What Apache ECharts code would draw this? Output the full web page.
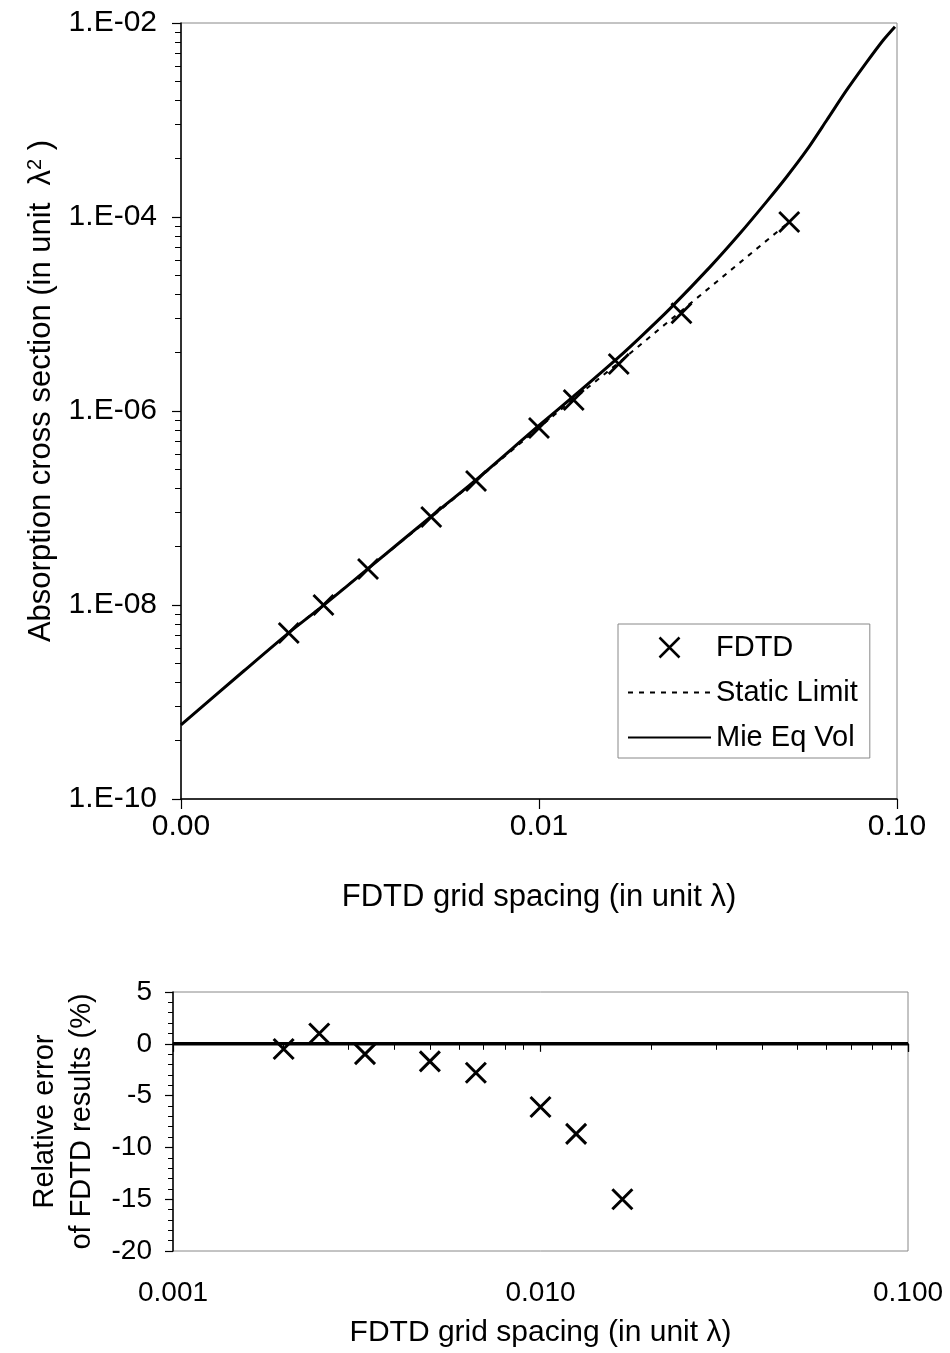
<!DOCTYPE html>
<html><head><meta charset="utf-8">
<script src="https://cdn.jsdelivr.net/npm/echarts@6/dist/echarts.min.js"></script>
<style>html,body{margin:0;padding:0;background:#fff}#c{width:950px;height:1353px}</style>
</head><body><div id="c"></div>
<script>
// ---- data ----
const gridSpacing = [0.002, 0.0025, 0.00333, 0.005, 0.00667, 0.01, 0.0125, 0.0167, 0.025, 0.05];
const fdtdCross   = [5.14e-9, 1.0e-8, 2.35e-8, 8.07e-8, 1.9e-7, 6.68e-7, 1.30e-6, 3.05e-6, 1.02e-5, 8.9e-5];
const staticCross = [5.2e-9, 1.0e-8, 2.37e-8, 8.0e-8, 1.92e-7, 6.75e-7, 1.33e-6, 3.15e-6, 1.08e-5, 8.9e-5];
const mieSpacing  = [0.001, 0.0015, 0.002, 0.0025, 0.00333, 0.005, 0.00667, 0.01, 0.0125, 0.0167, 0.0195, 0.0233, 0.0301, 0.0365, 0.0433, 0.0492, 0.056, 0.0637, 0.0724, 0.0823, 0.0916, 0.0987];
const mieCross    = [5.8e-10, 2.1e-9, 5.17e-9, 9.9e-9, 2.37e-8, 8.2e-8, 1.95e-7, 7.1e-7, 1.42e-6, 3.59e-6, 6.1e-6, 1.15e-5, 3.08e-5, 6.84e-5, 1.45e-4, 2.6e-4, 4.91e-4, 1.0e-3, 2.04e-3, 3.95e-3, 6.68e-3, 9.16e-3];
const errSpacing  = [0.002, 0.0025, 0.00333, 0.005, 0.00667, 0.01, 0.0125, 0.0167];
const relError    = [-0.5, 1.0, -1.0, -1.7, -2.8, -6.1, -8.7, -15.0];
const zeroSpacing = [0.001, 0.1];
const zeroError   = [0, 0];
const legendNames = ['FDTD', 'Static Limit', 'Mie Eq Vol'];

const FONT = "'Liberation Sans', Arial, Helvetica, sans-serif";
const X_PATH = 'path://M0,0L20,20M20,0L0,20';
const zip = (a, b) => a.map((v, i) => [v, b[i]]);
const black = '#000';
const noSym = {color: 'rgba(0,0,0,0)', borderWidth: 0, borderColor: 'rgba(0,0,0,0)'};

const chart = echarts.init(document.getElementById('c'), null, {renderer: 'canvas'});
const option = {
  animation: false,
  backgroundColor: '#fff',
  textStyle: {fontFamily: FONT, color: black},
  grid: [
    {left: 181, right: 53, top: 23, height: 776, show: true, borderColor: '#888', borderWidth: 1, backgroundColor: 'transparent'},
    {left: 173, right: 42, top: 992, height: 259, show: true, borderColor: '#888', borderWidth: 1, backgroundColor: 'transparent'}
  ],
  legend: {
    data: [
      {name: legendNames[0], icon: X_PATH, itemStyle: {color: 'rgba(0,0,0,0)', borderColor: black, borderWidth: 2.5, opacity: 1}},
      {name: legendNames[1], itemStyle: noSym},
      {name: legendNames[2], itemStyle: noSym}
    ],
    orient: 'vertical', left: 618, top: 624,
    itemWidth: 83, itemHeight: 20, itemGap: 16,
    padding: [9, 12, 6, 9],
    borderColor: '#888', borderWidth: 1,
    textStyle: {fontFamily: FONT, fontSize: 29, lineHeight: 29, color: black},
    selectedMode: false
  },
  xAxis: [
    {
      type: 'log', gridIndex: 0, min: 0.001, max: 0.1, logBase: 10,
      name: 'FDTD grid spacing (in unit λ)', nameLocation: 'middle', nameGap: 83,
      nameTextStyle: {fontFamily: FONT, fontSize: 31, color: black},
      axisLine: {show: true, lineStyle: {color: black, width: 1.5}},
      axisTick: {show: true, length: 10, lineStyle: {color: black, width: 1.2}},
      minorTick: {show: false},
      splitLine: {show: false},
      axisLabel: {fontFamily: FONT, fontSize: 30, color: black, margin: 13,
        formatter: v => v.toFixed(2)}
    },
    {
      type: 'log', gridIndex: 1, min: 0.001, max: 0.1, logBase: 10,
      name: 'FDTD grid spacing (in unit λ)', nameLocation: 'middle', nameGap: 67,
      nameTextStyle: {fontFamily: FONT, fontSize: 30, color: black},
      axisLine: {show: true, lineStyle: {color: black, width: 1.5}},
      axisTick: {show: true, length: 8, lineStyle: {color: black, width: 1.2}},
      minorTick: {show: true, splitNumber: 9, length: 6, lineStyle: {color: black, width: 1}},
      splitLine: {show: false}, minorSplitLine: {show: false},
      axisLabel: {fontFamily: FONT, fontSize: 28, color: black, margin: 28,
        formatter: v => v.toFixed(3)}
    }
  ],
  yAxis: [
    {
      type: 'log', gridIndex: 0, logBase: 100, min: 1e-10, max: 1e-2, position: 'left',
      name: '{a|Absorption cross section (in unit  λ}{s|2}{a| )}',
      nameLocation: 'middle', nameGap: 124,
      nameTextStyle: {fontFamily: FONT, fontSize: 31, color: black, padding: [0, 0, 0, 40],
        rich: {a: {fontFamily: FONT, fontSize: 31, color: black, lineHeight: 32},
               s: {fontFamily: FONT, fontSize: 20, color: black, verticalAlign: 'top', lineHeight: 32}}},
      axisLine: {show: true, lineStyle: {color: black, width: 1.5}},
      axisTick: {show: false},
      minorTick: {show: false},
      splitLine: {show: false},
      axisLabel: {fontFamily: FONT, fontSize: 30, color: black, margin: 24,
        formatter: v => { const e = Math.round(Math.log10(v)); const s = Math.abs(e) < 10 ? '0' + Math.abs(e) : '' + Math.abs(e); return '1.E' + (e < 0 ? '-' : '+') + s; }}
    },
    {
      // auxiliary axis carrying the tick marks only (log minor pattern per labelled interval)
      type: 'log', gridIndex: 0, logBase: 10, min: 1, max: 1e4, position: 'left', offset: 0,
      axisLine: {show: false},
      axisTick: {show: true, length: 9, lineStyle: {color: black, width: 1.2}},
      minorTick: {show: true, splitNumber: 9, length: 6, lineStyle: {color: black, width: 1}},
      splitLine: {show: false}, minorSplitLine: {show: false},
      axisLabel: {show: false}
    },
    {
      type: 'value', gridIndex: 1, min: -20, max: 5, interval: 5,
      name: 'Relative error\nof FDTD results (%)', nameLocation: 'middle', nameGap: 72,
      nameTextStyle: {fontFamily: FONT, fontSize: 29, color: black, lineHeight: 37},
      axisLine: {show: true, lineStyle: {color: black, width: 1.5}},
      axisTick: {show: true, length: 8, lineStyle: {color: black, width: 1.2}},
      minorTick: {show: true, splitNumber: 5, length: 5, lineStyle: {color: black, width: 1}},
      splitLine: {show: false}, minorSplitLine: {show: false},
      axisLabel: {fontFamily: FONT, fontSize: 28, color: black, margin: 21}
    }
  ],
  series: [
    {
      name: legendNames[1], type: 'line', xAxisIndex: 0, yAxisIndex: 0,
      data: zip(gridSpacing, staticCross), symbol: 'none', z: 2,
      lineStyle: {color: black, width: 2, type: [5, 6]}, itemStyle: {color: black},
      emphasis: {disabled: true}
    },
    {
      name: legendNames[2], type: 'line', xAxisIndex: 0, yAxisIndex: 0,
      data: zip(mieSpacing, mieCross), symbol: 'none', smooth: 0.25, z: 3,
      lineStyle: {color: black, width: 3}, itemStyle: {color: black},
      emphasis: {disabled: true}
    },
    {
      name: legendNames[0], type: 'scatter', xAxisIndex: 0, yAxisIndex: 0,
      data: zip(gridSpacing, fdtdCross), symbol: X_PATH, symbolSize: 20, z: 4,
      itemStyle: {color: 'rgba(0,0,0,0)', borderColor: black, borderWidth: 2.8, opacity: 1},
      emphasis: {disabled: true}
    },
    {
      name: 'Zero', type: 'line', xAxisIndex: 1, yAxisIndex: 2,
      data: zip(zeroSpacing, zeroError), symbol: 'none', z: 3,
      lineStyle: {color: black, width: 3.5}, emphasis: {disabled: true}
    },
    {
      name: 'FDTD error', type: 'scatter', xAxisIndex: 1, yAxisIndex: 2,
      data: zip(errSpacing, relError), symbol: X_PATH, symbolSize: 20, z: 4,
      itemStyle: {color: 'rgba(0,0,0,0)', borderColor: black, borderWidth: 3, opacity: 1},
      emphasis: {disabled: true}
    }
  ]
};
chart.setOption(option);
</script>
</body></html>
